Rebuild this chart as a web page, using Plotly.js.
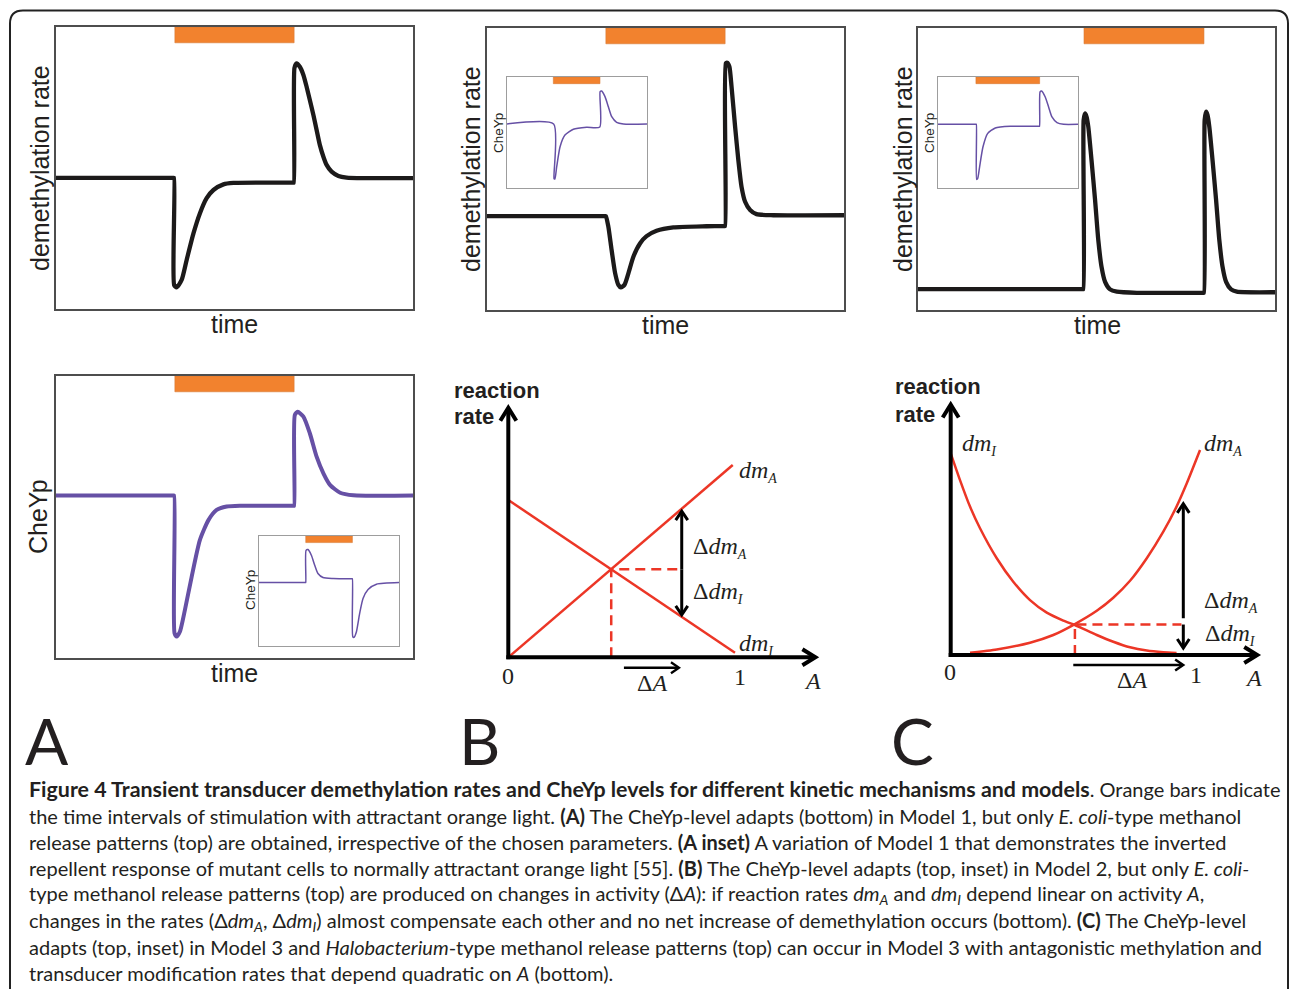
<!DOCTYPE html>
<html><head><meta charset="utf-8">
<script src="https://cdn.plot.ly/plotly-3.0.1.min.js"></script>
<style>html,body{margin:0;padding:0;background:#fff;overflow:hidden}#fig{width:1290px;height:989px}</style>
</head><body><div id="fig"></div>
<script>
// ---------------- DATA ----------------
// Panel A, top: demethylation rate vs time (Model 1)
const aTopTime = [0, 32.8, 33.05, 33.1, 33.8, 35.2, 36.6, 38.5, 40.3, 42.2, 44.1, 46.9, 49.7, 58.0, 66.4, 66.6, 66.8, 67.4, 68.3, 69.3, 70.2, 71.1, 72.1, 73.0, 73.9, 74.9, 75.8, 77.2, 79.1, 81.4, 86.1, 100];
const aTopRate = [46.5, 46.5, 46.5, 8.5, 7.7, 10.3, 17.4, 26.8, 33.9, 39.3, 42.2, 44.2, 44.7, 44.8, 44.8, 44.8, 85.5, 87.1, 85.9, 83.0, 78.8, 74.1, 68.8, 63.5, 58.2, 54.0, 51.1, 48.7, 47.2, 46.6, 46.4, 46.4];
const lightATop = [33.3, 66.7];
// Panel A, bottom: CheYp vs time
const aBotTime = [0, 32.9, 33.1, 33.2, 33.8, 34.7, 36.1, 38.0, 40.3, 42.7, 45.0, 47.8, 51.5, 60.0, 66.5, 66.7, 66.9, 67.7, 69.3, 71.1, 73.0, 74.9, 76.8, 79.6, 83.3, 100];
const aBotLevel = [57.6, 57.6, 57.6, 8.8, 7.6, 9.3, 17.0, 28.8, 41.8, 48.9, 52.5, 53.7, 54.0, 54.0, 54.0, 54.0, 86.2, 87.3, 85.6, 79.7, 71.4, 65.5, 61.3, 58.6, 57.7, 57.6];
const lightABot = [33.3, 66.7];
// Panel A, bottom inset: CheYp (inverted response)
const aInsTime = [0, 33.2, 33.4, 33.6, 35.0, 37.4, 39.8, 42.1, 45.7, 52.9, 66.4, 66.7, 67.0, 67.9, 69.6, 71.9, 74.3, 77.9, 83.9, 100];
const aInsLevel = [57.7, 57.7, 57.7, 87.0, 87.7, 82.5, 73.4, 65.9, 62.3, 61.4, 61.1, 61.1, 8.4, 7.9, 13.0, 29.6, 43.2, 51.4, 56.2, 57.7];
const lightAIns = [33.4, 66.7];
// Panel B, top: demethylation rate (Model 2)
const bTopTime = [0, 33.0, 33.3, 34.0, 34.9, 35.9, 36.8, 37.5, 38.5, 39.6, 41.0, 42.9, 44.7, 47.5, 52.2, 61.5, 66.5, 66.7, 66.9, 67.3, 67.9, 68.5, 69.5, 70.4, 71.3, 72.3, 73.7, 75.5, 80.2, 100];
const bTopRate = [33.3, 33.3, 33.3, 29.5, 21.3, 13.0, 8.9, 8.0, 8.9, 13.0, 18.9, 23.7, 26.2, 28.1, 29.3, 29.7, 29.8, 29.8, 87.5, 87.7, 86.3, 79.2, 65.0, 53.2, 43.7, 38.4, 35.5, 34.0, 33.6, 33.6];
const lightBTop = [33.3, 66.7];
// Panel B, top inset: CheYp
const bInsTime = [0, 33.3, 33.6, 34.2, 35.5, 37.9, 41.4, 47.4, 56.9, 66.3, 66.5, 67.6, 70.0, 72.4, 74.8, 78.3, 83.1, 100];
const bInsLevel = [57.7, 57.7, 8.5, 8.1, 19.2, 37.2, 47.7, 52.9, 54.7, 55.0, 86.8, 87.4, 82.3, 73.2, 64.2, 59.2, 57.7, 57.7];
const lightBIns = [33.1, 66.4];
// Panel C, top: demethylation rate (Model 3)
const cTopTime = [0, 46.1, 46.3, 46.4, 46.8, 47.2, 47.7, 48.6, 49.6, 50.5, 51.4, 52.4, 53.8, 55.7, 61.3, 79.9, 80.1, 80.3, 80.7, 81.1, 81.6, 82.5, 83.5, 84.4, 85.3, 86.3, 87.7, 89.3, 100];
const cTopRate = [7.4, 7.4, 7.4, 67.4, 69.7, 68.6, 65.0, 53.2, 39.0, 24.8, 15.4, 10.0, 7.3, 6.5, 6.1, 6.1, 6.1, 67.4, 70.3, 69.1, 65.0, 53.2, 39.0, 24.8, 15.4, 10.0, 7.3, 6.5, 6.3];
const lightCTop = [46.5, 80.1];
// Panel C, top inset: CheYp
const cInsTime = [0, 27.2, 27.4, 27.6, 28.3, 29.7, 32.1, 35.4, 40.9, 51.6, 72.1, 72.5, 72.9, 74.0, 76.6, 79.0, 81.4, 85.0, 89.7, 100];
const cInsLevel = [57.4, 57.4, 57.4, 7.8, 8.4, 18.9, 36.9, 49.0, 54.1, 55.6, 55.6, 55.6, 86.5, 87.4, 82.0, 73.0, 64.0, 58.9, 57.4, 57.4];
const lightCIns = [27.1, 72.6];

// Panel B, bottom: linear reaction rates vs activity A
const bDmAActivity = [0, 0.99];
const bDmARate = [0, 0.848];
const bDmIActivity = [0, 1.0];
const bDmIRate = [0.694, 0.02];
const bCross = [0.454, 0.388];          // activity, rate at intersection
const bShift = [0.765, 0.654, 0.178];   // shifted activity, dmA there, dmI there
const bDeltaA = [0.51, 0.76];
const bAxisTip = [1.367, 1.113];

// Panel C, bottom: quadratic reaction rates vs activity A
const cDmIActivity = [0, 0.040, 0.083, 0.126, 0.198, 0.269, 0.341, 0.413, 0.484, 0.534, 0.628, 0.699, 0.771, 0.843, 0.914, 0.971];
const cDmIRate = [0.867, 0.752, 0.638, 0.545, 0.416, 0.315, 0.236, 0.182, 0.148, 0.129, 0.086, 0.057, 0.033, 0.019, 0.012, 0.009];
const cDmAActivity = [0.083, 0.198, 0.341, 0.441, 0.534, 0.628, 0.699, 0.771, 0.843, 0.914, 0.971, 1.015, 1.072];
const cDmARate = [0.01, 0.024, 0.053, 0.086, 0.133, 0.190, 0.246, 0.319, 0.416, 0.530, 0.638, 0.738, 0.881];
const cCross = [0.534, 0.131];
const cShift = [1.0, 0.659, 0.158, 0.021];  // activity, up-arrow tip, up-arrow tail, down-arrow tip
const cDeltaA = [0.527, 1.007];
const cAxisTip = [1.33, 1.089];

const captionLines = [
  '<span style="font-size:21.4px"><b>Figure 4 Transient transducer demethylation rates and CheYp levels for different kinetic mechanisms and models</b></span>. Orange bars indicate',
  'the time intervals of stimulation with attractant orange light. <b>(A)</b> The CheYp-level adapts (bottom) in Model 1, but only <i>E. coli</i>-type methanol',
  'release patterns (top) are obtained, irrespective of the chosen parameters. <b>(A inset)</b> A variation of Model 1 that demonstrates the inverted',
  'repellent response of mutant cells to normally attractant orange light [55]. <b>(B)</b> The CheYp-level adapts (top, inset) in Model 2, but only <i>E. coli-</i>',
  'type methanol release patterns (top) are produced on changes in activity (Δ<i>A</i>): if reaction rates <i>dm<sub>A</sub></i> and <i>dm<sub>I</sub></i> depend linear on activity <i>A</i>,',
  'changes in the rates (Δ<i>dm<sub>A</sub></i>, Δ<i>dm<sub>I</sub></i>) almost compensate each other and no net increase of demethylation occurs (bottom). <b>(C)</b> The CheYp-level',
  'adapts (top, inset) in Model 3 and <i>Halobacterium</i>-type methanol release patterns (top) can occur in Model 3 with antagonistic methylation and',
  'transducer modification rates that depend quadratic on <i>A</i> (bottom).'
];
const panelLetters = ['A', 'B', 'C'];

// ---------------- LAYOUT HELPERS ----------------
const W = 1290, H = 989;
const PX = v => v / W, PY = v => 1 - v / H;
const BLACK = '#1c1a1a', PURPLE = '#6650a5', RED = '#ec3626', ORANGE = '#f2822e', TXT = '#231f20';
const SANS = 'Liberation Sans, Arial, sans-serif';
const SERIF = 'Liberation Serif, Times New Roman, serif';
const CAP = 'Lato, Open Sans, sans-serif';

const layout = {
  width: W, height: H, margin: {l: 0, r: 0, t: 0, b: 0, pad: 0},
  paper_bgcolor: '#ffffff', plot_bgcolor: 'rgba(0,0,0,0)', showlegend: false,
  shapes: [], annotations: []
};
function sfx(n) { return n === 1 ? '' : String(n); }
function frame(n, l, r, t, b, xr, yr, color, lw) {
  const s = sfx(n);
  const common = {showline: lw > 0, mirror: true, linecolor: color, linewidth: lw, showticklabels: false,
    ticks: '', showgrid: false, zeroline: false, fixedrange: true};
  layout['xaxis' + s] = Object.assign({domain: [PX(l), PX(r)], range: xr, anchor: 'y' + s}, common);
  layout['yaxis' + s] = Object.assign({domain: [PY(b), PY(t)], range: yr, anchor: 'x' + s}, common);
}
// time panels (0..100 on both axes)
frame(1, 56, 413, 27, 309, [0, 100], [0, 100], '#4d4d4d', 2);
frame(2, 487, 844, 28, 310, [0, 100], [0, 100], '#4d4d4d', 2);
frame(3, 507, 647, 77, 188, [0, 100], [0, 100], '#9d9d9d', 1.2);
frame(4, 918, 1275, 28, 310, [0, 100], [0, 100], '#4d4d4d', 2);
frame(5, 938, 1078, 77, 188, [0, 100], [0, 100], '#9d9d9d', 1.2);
frame(6, 56, 413, 376, 658, [0, 100], [0, 100], '#4d4d4d', 2);
frame(7, 259, 399, 536, 646, [0, 100], [0, 100], '#9d9d9d', 1.2);
// rate-vs-activity panels: origin pixel + pixels per unit (same scale on both axes)
const KB = 226.7, KC = 232.6;
function schematic(n, ox, oy, k, l, r, t, b) {
  frame(n, l, r, t, b, [(l - ox) / k, (r - ox) / k], [(oy - b) / k, (oy - t) / k], '#fff', 0);
}
schematic(8, 508.3, 657.3, KB, 490, 830, 395, 700);
schematic(9, 950.7, 655, KC, 930, 1280, 390, 700);

// ---------------- TRACES ----------------
const traces = [];
function curve(n, x, y, color, w, extra) {
  const s = sfx(n);
  traces.push(Object.assign({type: 'scatter', mode: 'lines', x: x, y: y, xaxis: 'x' + s, yaxis: 'y' + s,
    line: {color: color, width: w, shape: 'spline', smoothing: 0.6}, hoverinfo: 'skip'}, extra || {}));
}
curve(1, aTopTime, aTopRate, BLACK, 4.3);
curve(2, bTopTime, bTopRate, BLACK, 4.3);
curve(3, bInsTime, bInsLevel, PURPLE, 1.5);
curve(4, cTopTime, cTopRate, BLACK, 4.3);
curve(5, cInsTime, cInsLevel, PURPLE, 1.5);
curve(6, aBotTime, aBotLevel, PURPLE, 4);
curve(7, aInsTime, aInsLevel, PURPLE, 1.5);

// B bottom
curve(8, bDmAActivity, bDmARate, RED, 2.5, {line: {color: RED, width: 2.5}});
curve(8, bDmIActivity, bDmIRate, RED, 2.5, {line: {color: RED, width: 2.5}});
curve(8, [bCross[0], bCross[0], bShift[0] - 0.008], [0, bCross[1], bCross[1]], RED, 2.5,
  {line: {color: RED, width: 2.5, dash: '10px,6px'}});
// C bottom
curve(9, cDmIActivity, cDmIRate, RED, 2.5);
curve(9, cDmAActivity, cDmARate, RED, 2.5);
curve(9, [cCross[0], cCross[0], cShift[0] - 0.008], [0, cCross[1], cCross[1]], RED, 2.5,
  {line: {color: RED, width: 2.5, dash: '10px,6px'}});

// arrows: shaft + open chevron head (sizes in pixels, converted with the panel scale k)
function arrow(n, k, x0, y0, x1, y1, w, len, hw) {
  const s = sfx(n);
  const dx = x1 - x0, dy = y1 - y0, d = Math.hypot(dx, dy);
  const ux = dx / d, uy = dy / d, nx = -uy, ny = ux;
  const back = (w * 0.7) / k;
  const tx = x1 - ux * back, ty = y1 - uy * back;
  const L = len / k, Hw = hw / k;
  const base = {type: 'scatter', mode: 'lines', xaxis: 'x' + s, yaxis: 'y' + s, hoverinfo: 'skip',
    line: {color: '#000', width: w}};
  traces.push(Object.assign({x: [x0, tx - ux * 0.5 * back], y: [y0, ty - uy * 0.5 * back]}, base));
  traces.push(Object.assign({x: [tx - ux * L + nx * Hw, tx, tx - ux * L - nx * Hw],
    y: [ty - uy * L + ny * Hw, ty, ty - uy * L - ny * Hw]}, base));
}
// B bottom axes and arrows
arrow(8, KB, -2 / KB, 0, bAxisTip[0], 0, 4, 13, 8);
arrow(8, KB, 0, -2 / KB, 0, bAxisTip[1], 4, 13, 8);
arrow(8, KB, bShift[0], bCross[1], bShift[0], bShift[1], 3, 9, 6);
arrow(8, KB, bShift[0], bCross[1], bShift[0], bShift[2], 3, 9, 6);
arrow(8, KB, bDeltaA[0], -0.046, bDeltaA[1], -0.046, 2.3, 8, 5.5);
// C bottom axes and arrows
arrow(9, KC, -2 / KC, 0, cAxisTip[0], 0, 4, 13, 8);
arrow(9, KC, 0, -2 / KC, 0, cAxisTip[1], 4, 13, 8);
arrow(9, KC, cShift[0], cShift[2], cShift[0], cShift[1], 3, 9, 6);
arrow(9, KC, cShift[0], cCross[1], cShift[0], cShift[3], 3, 9, 6);
arrow(9, KC, cDeltaA[0], -0.043, cDeltaA[1], -0.043, 2.5, 8, 5.5);

// ---------------- SHAPES ----------------
function bar(n, on, h) {
  const s = sfx(n);
  layout.shapes.push({type: 'rect', xref: 'x' + s, yref: 'y' + s, x0: on[0], x1: on[1], y0: 100 - h, y1: 100,
    fillcolor: ORANGE, line: {color: '#d97a34', width: 0.6}});
}
bar(1, lightATop, 5.6); bar(2, lightBTop, 5.6); bar(4, lightCTop, 5.6); bar(6, lightABot, 5.6);
bar(3, lightBIns, 6); bar(5, lightCIns, 6); bar(7, lightAIns, 6);

// outer rounded border
(function () {
  const l = 10, t = 10.5, r = 1288, b = 1010, rad = 13;
  const p = (x, y) => PX(x).toFixed(5) + ',' + PY(y).toFixed(5);
  layout.shapes.push({type: 'path', xref: 'paper', yref: 'paper', line: {color: '#222', width: 2},
    path: 'M' + p(l, b) + ' L' + p(l, t + rad) + ' Q' + p(l, t) + ' ' + p(l + rad, t) + ' L' + p(r - rad, t) +
      ' Q' + p(r, t) + ' ' + p(r, t + rad) + ' L' + p(r, b)});
})();

// ---------------- ANNOTATIONS ----------------
function txt(x, y, s, size, family, o) {
  layout.annotations.push(Object.assign({xref: 'paper', yref: 'paper', x: PX(x), y: PY(y), text: s, showarrow: false,
    font: {size: size, family: family, color: TXT}, xanchor: 'center', yanchor: 'middle'}, o || {}));
}
// axis labels of time panels
txt(40, 168, 'demethylation rate', 25, SANS, {textangle: -90});
txt(471, 169, 'demethylation rate', 25, SANS, {textangle: -90});
txt(903, 169, 'demethylation rate', 25, SANS, {textangle: -90});
txt(38, 517, 'CheYp', 25, SANS, {textangle: -90});
txt(234, 324, 'time', 25, SANS); txt(665, 325, 'time', 25, SANS); txt(1097, 325, 'time', 25, SANS);
txt(234, 673, 'time', 25, SANS);
txt(498, 133, 'CheYp', 13.5, SANS, {textangle: -90});
txt(929, 133, 'CheYp', 13.5, SANS, {textangle: -90});
txt(250, 590, 'CheYp', 13.5, SANS, {textangle: -90});

// math labels
const sub = s => '<sub><span style="font-size:14px"><i>' + s + '</i></span></sub>';
// B bottom texts
const BOLD = {font: {size: 22, family: SANS, color: TXT, weight: 'bold'}, xanchor: 'left'};
txt(452, 390, '<b>reaction</b>', 22, SANS, BOLD);
txt(452, 417, '<b>rate</b>', 22, SANS, BOLD);
txt(737, 471, '<i>dm</i>' + sub('A'), 24, SERIF, {xanchor: 'left'});
txt(737, 644, '<i>dm</i>' + sub('I'), 24, SERIF, {xanchor: 'left'});
txt(691, 547, 'Δ<i>dm</i>' + sub('A'), 24, SERIF, {xanchor: 'left'});
txt(691, 592, 'Δ<i>dm</i>' + sub('I'), 24, SERIF, {xanchor: 'left'});
txt(508, 676, '0', 24, SERIF); txt(740, 677, '1', 24, SERIF);
txt(812, 681, '<i>A</i>', 24, SERIF); txt(652, 683, 'Δ<i>A</i>', 24, SERIF);
// C bottom texts
txt(893, 386, '<b>reaction</b>', 22, SANS, BOLD);
txt(893, 414, '<b>rate</b>', 22, SANS, BOLD);
txt(960, 444, '<i>dm</i>' + sub('I'), 24, SERIF, {xanchor: 'left'});
txt(1202, 444, '<i>dm</i>' + sub('A'), 24, SERIF, {xanchor: 'left'});
txt(1202, 601, 'Δ<i>dm</i>' + sub('A'), 24, SERIF, {xanchor: 'left'});
txt(1203, 634, 'Δ<i>dm</i>' + sub('I'), 24, SERIF, {xanchor: 'left'});
txt(950, 672, '0', 24, SERIF); txt(1196, 675, '1', 24, SERIF);
txt(1253, 678, '<i>A</i>', 24, SERIF); txt(1132, 680, 'Δ<i>A</i>', 24, SERIF);

// panel letters
const LETTER = {font: {size: 64, family: CAP, color: TXT}};
txt(47, 740, panelLetters[0], 64, CAP, LETTER);
txt(479, 740, panelLetters[1], 64, CAP, LETTER);
txt(912, 740, panelLetters[2], 64, CAP, LETTER);

// caption
const capY = [789, 815.5, 842, 868, 894.5, 921, 947, 973];
captionLines.forEach((s, i) => txt(27, capY[i], s, 20, CAP, {xanchor: 'left'}));

Plotly.newPlot('fig', traces, layout, {displayModeBar: false, staticPlot: true});
</script></body></html>
